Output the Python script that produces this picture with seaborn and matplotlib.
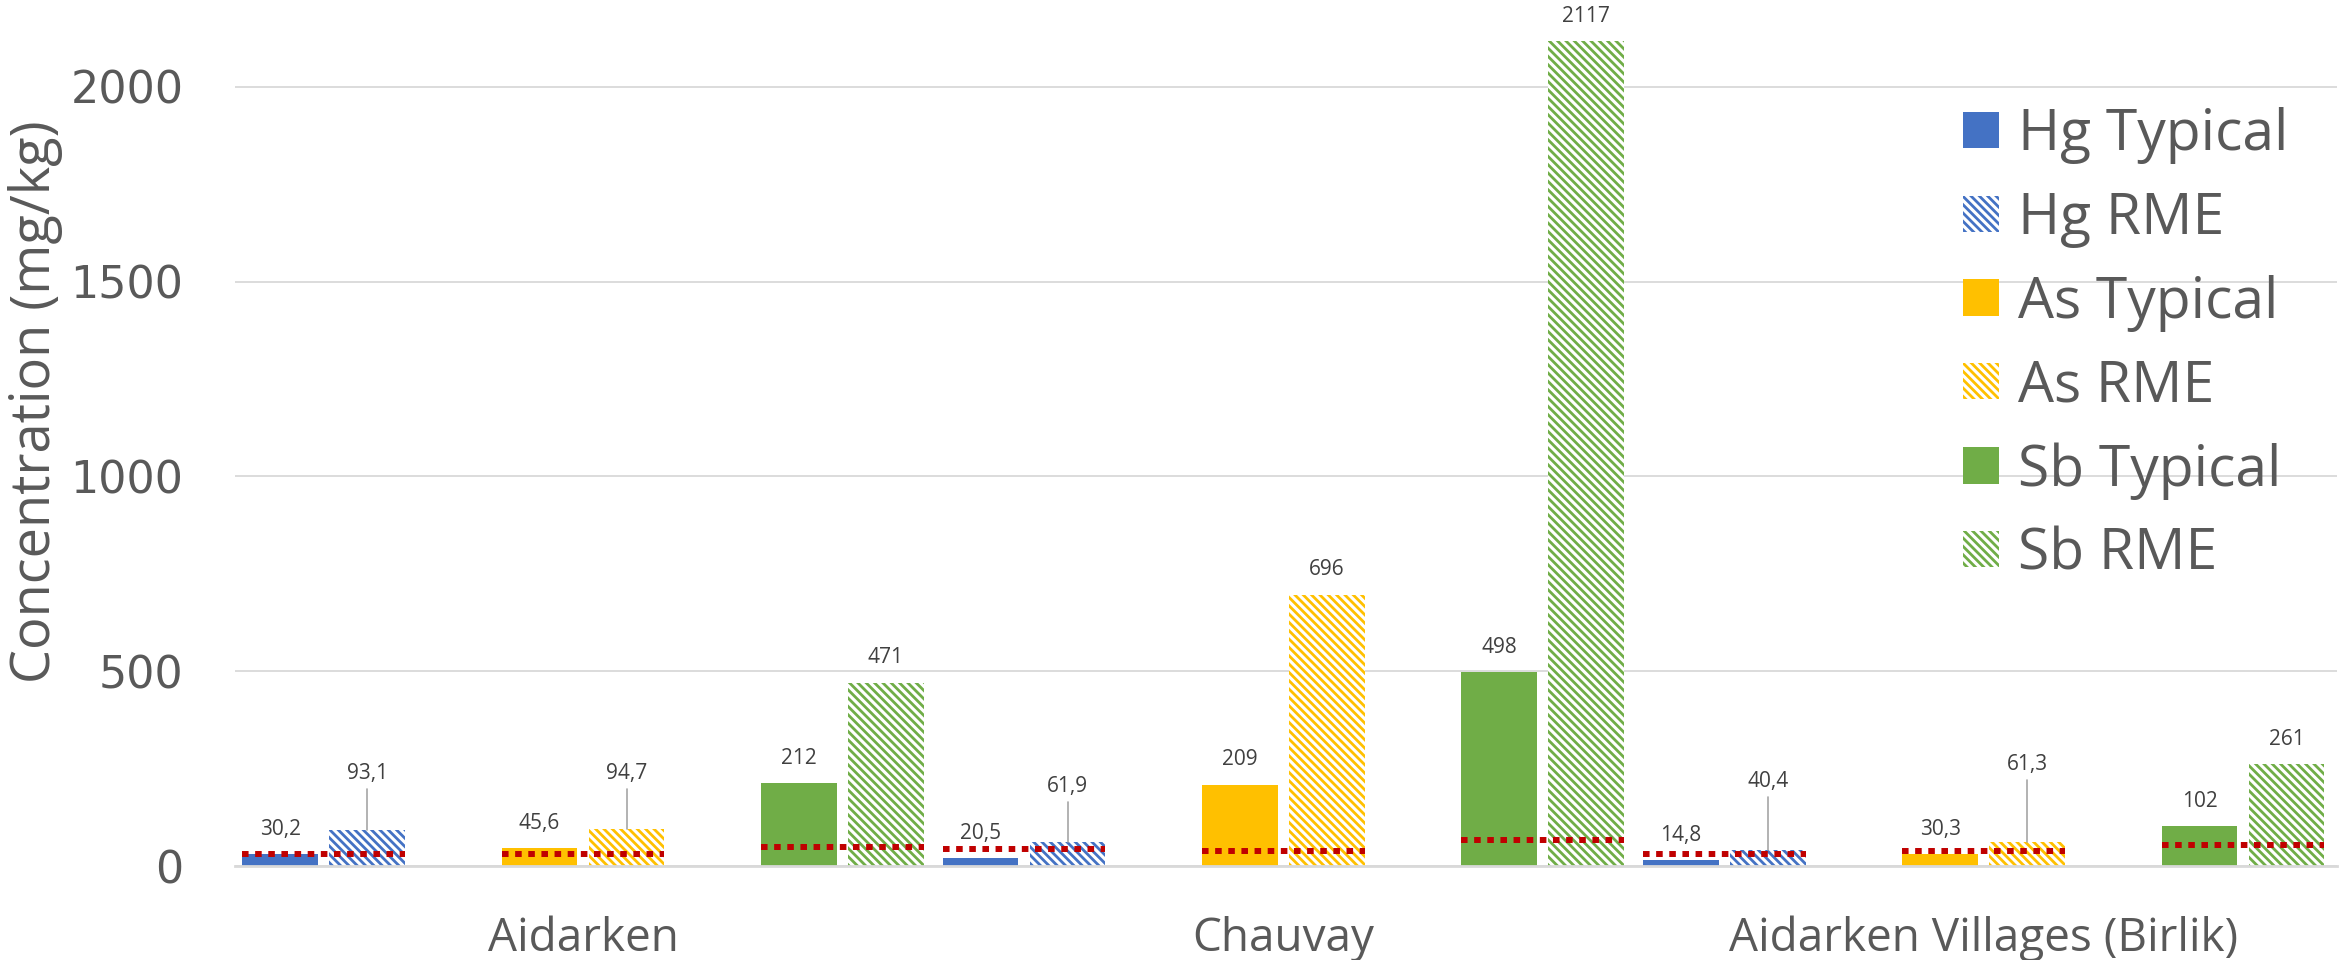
import numpy as np
import pandas as pd
import matplotlib
matplotlib.use("Agg")
import matplotlib.pyplot as plt
import seaborn as sns
from matplotlib.patches import Patch

# data
sites = ["Aidarken", "Chauvay", "Aidarken Villages (Birlik)"]
elements = ["Hg", "As", "Sb"]
kinds = ["Typical", "RME"]

hg_typical = [30.2, 20.5, 14.8]
hg_rme = [93.1, 61.9, 40.4]
as_typical = [45.6, 209, 30.3]
as_rme = [94.7, 696, 61.3]
sb_typical = [212, 498, 102]
sb_rme = [471, 2117, 261]

# red dotted reference levels (per site)
hg_ref = [30, 43, 30]
as_ref = [32, 38, 39]
sb_ref = [48, 67, 55]

# label heights for the small RME bars that use leader lines (None = normal label)
hg_rme_label = [238, 205, 216]
as_rme_label = [238, None, 261]
sb_rme_label = [None, None, None]

values = {("Hg", "Typical"): hg_typical, ("Hg", "RME"): hg_rme,
          ("As", "Typical"): as_typical, ("As", "RME"): as_rme,
          ("Sb", "Typical"): sb_typical, ("Sb", "RME"): sb_rme}
refs = {"Hg": hg_ref, "As": as_ref, "Sb": sb_ref}
rme_labels = {"Hg": hg_rme_label, "As": as_rme_label, "Sb": sb_rme_label}

colors = {"Hg": "#4472C4", "As": "#FFC000", "Sb": "#70AD47"}
GROUP_STEP, PAIR_STEP, BAR_STEP, BAR_W = 8.05, 2.98, 1.0, 0.87
HATCH = "\\\\\\\\"

rows = []
for i, site in enumerate(sites):
    for j, el in enumerate(elements):
        for k, kind in enumerate(kinds):
            rows.append(dict(site=site, element=el, kind=kind,
                             series=f"{el} {kind}",
                             value=values[(el, kind)][i],
                             pos=i * GROUP_STEP + j * PAIR_STEP + k * BAR_STEP))
df = pd.DataFrame(rows)

series_order = [f"{el} {kind}" for el in elements for kind in kinds]
palette = {s: colors[s.split()[0]] for s in series_order}

sns.set_theme(style="white")
plt.rcParams['font.family'] = ['Open Sans', 'DejaVu Sans']
plt.rcParams['hatch.linewidth'] = 2.0

fig = plt.figure(figsize=(23.46, 9.6), dpi=100)
ax = fig.add_axes([235 / 2346, 94 / 960, 2102 / 2346, 857 / 960])

sns.barplot(data=df, x="pos", y="value", hue="series", hue_order=series_order,
            palette=palette, native_scale=True, dodge=False, width=BAR_W,
            errorbar=None, saturation=1, legend=False, ax=ax)

for name, cont in zip(series_order, ax.containers):
    if name.endswith("RME"):
        for bar in cont:
            bar.set_facecolor("white")
            bar.set_edgecolor(palette[name])
            bar.set_hatch(HATCH)
            bar.set_linewidth(0)
    else:
        for bar in cont:
            bar.set_linewidth(0)

fmt = lambda v: f"{v:g}".replace(".", ",")

# data labels
for _, r in df.iterrows():
    lab_y = None
    if r["kind"] == "RME":
        lab_y = rme_labels[r["element"]][sites.index(r["site"])]
    if lab_y is None:
        ax.annotate(fmt(r["value"]), (r["pos"], r["value"]), xytext=(0, 18),
                    textcoords="offset points", ha="center", va="center",
                    fontsize=15, color="#404040")
    else:
        ax.plot([r["pos"], r["pos"]], [r["value"], lab_y - 40], color="#A6A6A6",
                lw=1.2, zorder=5)
        ax.text(r["pos"], lab_y, fmt(r["value"]), ha="center", va="center",
                fontsize=15, color="#404040")

# reference dotted lines
for i, site in enumerate(sites):
    for j, el in enumerate(elements):
        x0 = i * GROUP_STEP + j * PAIR_STEP - BAR_W / 2
        x1 = x0 + BAR_STEP + BAR_W
        ax.hlines(refs[el][i], x0, x1, colors="#C00000", linewidth=4.3,
                  linestyles=(0, (1.1, 1.1)), zorder=4)

ax.set_xlim(-0.52, 23.64)
ax.set_ylim(0, 2200)
ax.set_yticks([0, 500, 1000, 1500, 2000])
ax.yaxis.grid(True, color="#D9D9D9", lw=1.3)
ax.set_axisbelow(True)
for s in ["top", "right", "left"]:
    ax.spines[s].set_visible(False)
ax.spines["bottom"].set_color("#D9D9D9")
ax.spines["bottom"].set_linewidth(2)

centers = [i * GROUP_STEP + (2 * PAIR_STEP + BAR_STEP) / 2 for i in range(len(sites))]
ax.set_xticks(centers)
ax.set_xticklabels(sites)
ax.tick_params(axis="x", length=0, pad=36, labelsize=33, labelcolor="#595959")
ax.tick_params(axis="y", length=0, pad=37, labelsize=32, labelcolor="#595959")
for lbl in ax.get_yticklabels():
    lbl.set_fontfamily("DejaVu Sans")
ax.set_xlabel("")
ax.set_ylabel("")
fig.text(36 / 2346, 1 - 402 / 960, "Concentration (mg/kg)", rotation=90,
         ha="center", va="center", fontsize=39, color="#595959")

handles = []
for name in series_order:
    c = palette[name]
    if name.endswith("RME"):
        handles.append(Patch(facecolor="white", edgecolor=c, hatch=HATCH, linewidth=0))
    else:
        handles.append(Patch(facecolor=c, linewidth=0))
ax.legend(handles, series_order, loc="upper left",
          bbox_to_anchor=(1963 / 2346, 1 - 107 / 960), bbox_transform=fig.transFigure,
          frameon=False, fontsize=41, labelcolor="#595959", borderpad=0,
          handlelength=0.63, handleheight=0.6, handletextpad=0.33, labelspacing=0.47,
          borderaxespad=0)

fig.savefig("out.png", dpi=100)
